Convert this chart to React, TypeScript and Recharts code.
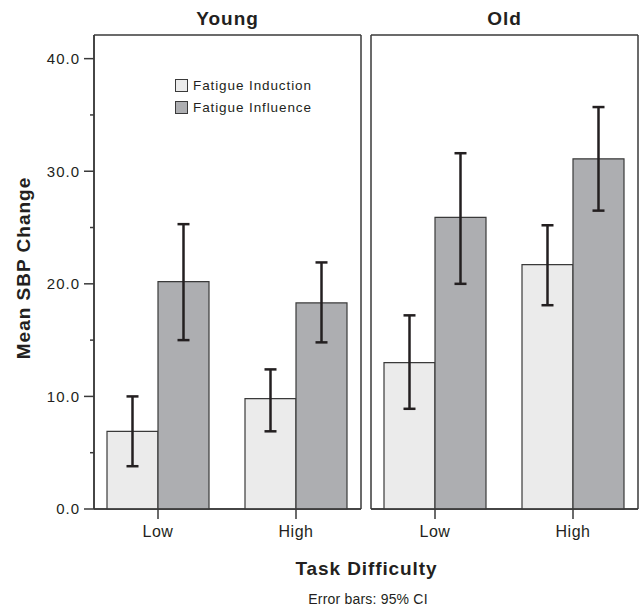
import { BarChart, Bar, XAxis, YAxis, ErrorBar, Legend, CartesianGrid } from 'recharts';

// task difficulty levels (x categories in each panel)
const difficulty = ['Low', 'High'];

// mean SBP change, young participants
const youngInduction = [6.9, 9.8];
const youngInfluence = [20.2, 18.3];
// 95% CI bounds [low, high]
const youngInductionCI = [[3.8, 10.0], [6.9, 12.4]];
const youngInfluenceCI = [[15.0, 25.3], [14.8, 21.9]];

// mean SBP change, old participants
const oldInduction = [13.0, 21.7];
const oldInfluence = [25.9, 31.1];
const oldInductionCI = [[8.9, 17.2], [18.1, 25.2]];
const oldInfluenceCI = [[20.0, 31.6], [26.5, 35.7]];

const yTicks = [0, 5, 10, 15, 20, 25, 30, 35, 40];
const yDomain = [0, 42.1];

const INK = '#231f20';
const FRAME = '#3a3a3a';
const FILL_IND = '#ebebeb';
const FILL_INF = '#adaeb1';

const buildRows = (ind: number[], inf: number[], indCI: number[][], infCI: number[][]) =>
  difficulty.map((cat, i) => ({
    cat,
    induction: ind[i],
    influence: inf[i],
    indErr: [ind[i] - indCI[i][0], indCI[i][1] - ind[i]],
    infErr: [inf[i] - infCI[i][0], infCI[i][1] - inf[i]],
  }));

const youngRows = buildRows(youngInduction, youngInfluence, youngInductionCI, youngInfluenceCI);
const oldRows = buildRows(oldInduction, oldInfluence, oldInductionCI, oldInfluenceCI);

const YTick = (props: any) => {
  const { x, y, payload } = props;
  const major = payload.value % 10 === 0;
  return (
    <g>
      <line x1={x - (major ? 10 : 4)} x2={x} y1={y} y2={y} stroke={FRAME} strokeWidth={1.5} />
      {major && (
        <text x={x - 14} y={y} dy="0.36em" textAnchor="end" fontSize={15} letterSpacing={1} fill={INK}>
          {payload.value.toFixed(1)}
        </text>
      )}
    </g>
  );
};

const LegendBox = (props: any) => {
  const items = props.payload || [];
  return (
    <div>
      {items.map((it: any) => (
        <div key={it.value} style={{ display: 'flex', alignItems: 'center', height: 20, marginBottom: 2 }}>
          <span
            style={{
              display: 'inline-block',
              width: 11,
              height: 11,
              background: it.color,
              border: `1px solid ${FRAME}`,
              marginRight: 5,
            }}
          />
          <span style={{ fontSize: 13.5, letterSpacing: 0.9, color: INK }}>{it.value}</span>
        </div>
      ))}
    </div>
  );
};

const frameLine = { stroke: FRAME, strokeWidth: 1.5 };

// panel frame: grid lines only at the plot edges
const edgeCols = ({ offset }: any) => [offset.left, offset.left + offset.width];
const edgeRows = ({ offset }: any) => [offset.top, offset.top + offset.height];

function Panel({ rows, showY, showLegend }: { rows: any[]; showY: boolean; showLegend: boolean }) {
  return (
    <BarChart
      width={showY ? 362 : 279}
      height={560}
      data={rows}
      margin={{ top: 35, right: 1, left: showY ? 0 : 11, bottom: 21 }}
      barSize={51}
      barGap={0}
    >
      <CartesianGrid
        stroke={FRAME}
        strokeWidth={1.5}
        verticalCoordinatesGenerator={edgeCols}
        horizontalCoordinatesGenerator={edgeRows}
      />
      <XAxis
        dataKey="cat"
        height={30}
        padding={{ left: -5, right: -4 }}
        axisLine={frameLine}
        tickLine={frameLine}
        tickSize={10}
        tickMargin={7}
        tick={{ fontSize: 16, fill: INK, letterSpacing: 0.5 }}
      />
      <YAxis
        domain={yDomain}
        ticks={yTicks}
        width={showY ? 94 : 0}
        axisLine={frameLine}
        tickLine={false}
        tickSize={0}
        tickMargin={0}
        tick={showY ? <YTick /> : false}
        interval={0}
      />
      {showLegend && (
        <Legend
          layout="vertical"
          align="center"
          verticalAlign="middle"
          content={<LegendBox />}
          wrapperStyle={{ left: 175, top: 75, width: 160 }}
        />
      )}
      <Bar dataKey="induction" name="Fatigue Induction" fill={FILL_IND} stroke={FRAME} strokeWidth={1.2} isAnimationActive={false}>
        <ErrorBar dataKey="indErr" width={6} stroke={INK} strokeWidth={2.5} direction="y" />
      </Bar>
      <Bar dataKey="influence" name="Fatigue Influence" fill={FILL_INF} stroke={FRAME} strokeWidth={1.2} isAnimationActive={false}>
        <ErrorBar dataKey="infErr" width={6} stroke={INK} strokeWidth={2.5} direction="y" />
      </Bar>
    </BarChart>
  );
}

export default function App() {
  return (
    <div
      style={{
        position: 'absolute',
        left: 0,
        top: 0,
        width: 639,
        height: 609,
        background: '#fff',
        fontFamily: '"Liberation Sans", Arial, sans-serif',
        overflow: 'hidden',
      }}
    >
      <div style={{ position: 'absolute', left: 0, top: 0 }}>
        <Panel rows={youngRows} showY showLegend />
      </div>
      <div style={{ position: 'absolute', left: 360, top: 0 }}>
        <Panel rows={oldRows} showY={false} showLegend={false} />
      </div>
      <svg width={639} height={609} style={{ position: 'absolute', left: 0, top: 0, pointerEvents: 'none' }}>
        <text x={227.5} y={25} textAnchor="middle" fontSize={19} fontWeight="bold" letterSpacing={1} fill={INK}>
          Young
        </text>
        <text x={504.5} y={25} textAnchor="middle" fontSize={19} fontWeight="bold" letterSpacing={1} fill={INK}>
          Old
        </text>
        <text
          x={30}
          y={268}
          transform="rotate(-90, 30, 268)"
          textAnchor="middle"
          fontSize={19}
          fontWeight="bold"
          letterSpacing={1}
          fill={INK}
        >
          Mean SBP Change
        </text>
        <text x={366.5} y={575} textAnchor="middle" fontSize={19} fontWeight="bold" letterSpacing={0.9} fill={INK}>
          Task Difficulty
        </text>
        <text x={368} y={604} textAnchor="middle" fontSize={14} letterSpacing={0.2} fill={INK}>
          Error bars: 95% CI
        </text>
      </svg>
    </div>
  );
}
